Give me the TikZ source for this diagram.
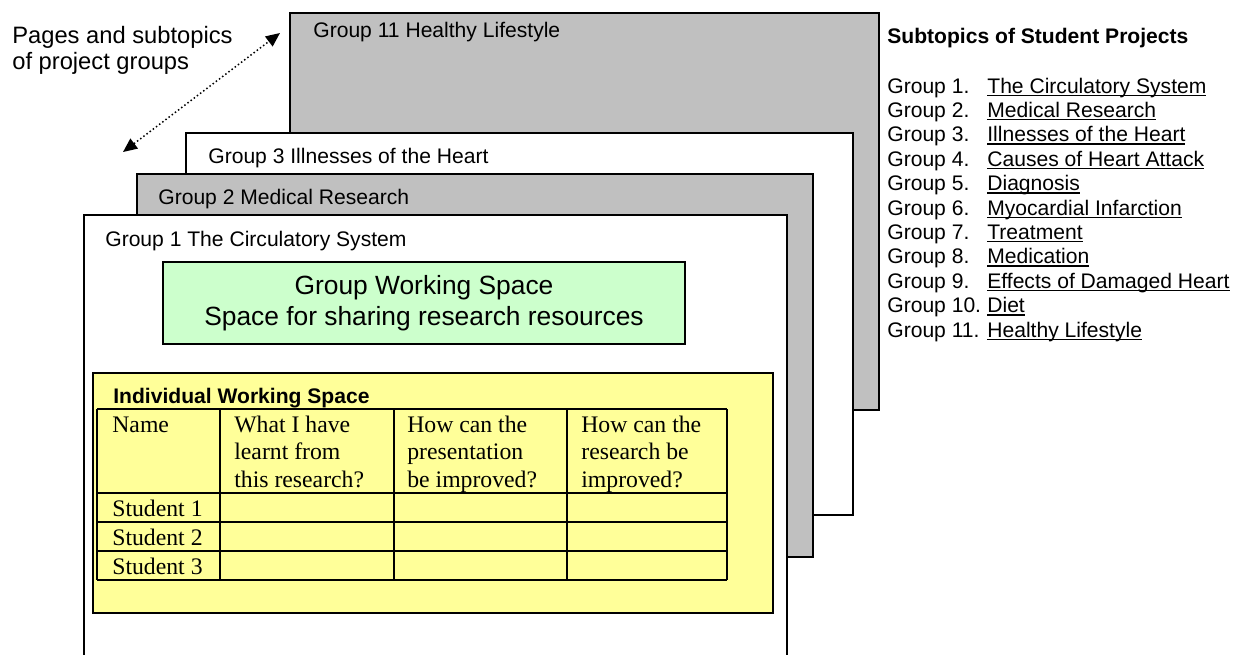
\documentclass[tikz,border=0pt]{standalone}
\usepackage{fontspec}
\setmainfont{Liberation Sans}
\newfontfamily\timesfont{Liberation Serif}
\usepackage{xcolor}
\usepackage{tikz}
\usetikzlibrary{
  arrows.meta
}

\definecolor{pagegray}{HTML}{C0C0C0}
\definecolor{groupgreen}{HTML}{CCFFCC}
\definecolor{indivyellow}{HTML}{FFFF99}

% 下線付きの小題
\newsavebox{\subbox}
\newcommand{\subul}[1]{%
  \sbox{\subbox}{#1}\rlap{\rule[-1.7pt]{\wd\subbox}{0.75pt}}\usebox{\subbox}}

\begin{document}
\begin{tikzpicture}[%スタイル設定
          x=0.02cm,y=-0.02cm,
          page/.style={
              draw=black,
              line width=1.1pt
            },
          title/.style={
              anchor=base west,
              inner sep=0pt,
              font=\fontsize{12}{14}\selectfont
            },
          cell/.style={
              anchor=base west,
              inner sep=0pt,
              align=left,
              font=\timesfont\fontsize{13.5}{15.4}\selectfont
            },
          grid/.style={
              line width=0.9pt
            }
        ]
        \useasboundingbox (0,0) rectangle (1236,654);
        \clip (0,0) rectangle (1236,654);

        % 重なったページ
        \filldraw[page,fill=pagegray] (290,13) rectangle (879,410);
        \filldraw[page,fill=white] (186,133) rectangle (853,515);
        \filldraw[page,fill=pagegray] (137,174) rectangle (813,557);
        \filldraw[page,fill=white] (84,215) rectangle (787,690);

        % ページの題名
        \node[title] (g11) at (313,37) {Group 11 Healthy Lifestyle};
        \node[title] (g3) at (208,163) {Group 3 Illnesses of the Heart};
        \node[title] (g2) at (158,204) {Group 2 Medical Research};
        \node[title] (g1) at (105,246) {Group 1 The Circulatory System};

        % グループ作業スペース
        \node[
          draw,
          line width=1pt,
          fill=groupgreen,
          minimum width=10.44cm,
          minimum height=1.64cm,
          align=center,
          font=\fontsize{15}{17.5}\selectfont
        ] (groupspace) at (424,303) {Group Working Space\\Space for sharing research resources};

        % 個人作業スペース
        \node[
          draw,
          line width=1pt,
          fill=indivyellow,
          minimum width=13.6cm,
          minimum height=4.8cm
        ] (indivspace) at (433,493) {};
        \node[title,font=\bfseries\fontsize{12}{14}\selectfont] (indivtitle) at (113,403) {Individual Working Space};

        % 表の罫線
        \foreach \r in {409,493,522,551,580}
          \draw[grid] (97,\r) -- (727,\r);
        \foreach \c in {97,220,394,567,727}
          \draw[grid] (\c,409) -- (\c,580);

        % 表の中身 (複数行は最終行のベースライン)
        \node[cell] (hname) at (112,432) {Name};
        \node[cell] (hlearnt) at (234,487) {What I have\\learnt from\\this research?};
        \node[cell] (hpresent) at (407,487) {How can the\\presentation\\be improved?};
        \node[cell] (hresearch) at (581,487) {How can the\\research be\\improved?};
        \foreach \i/\y in {1/516,2/545,3/574}
          \node[cell] (stud\i) at (112,\y) {Student \i};

        % 小題の一覧
        \node[title,font=\bfseries\fontsize{12}{14}\selectfont] (listtitle) at (887,43) {Subtopics of Student Projects};
        \foreach \i/\t [evaluate=\i as \yy using 93+24.4*(\i-1)] in {
            1/The Circulatory System,
            2/Medical Research,
            3/Illnesses of the Heart,
            4/Causes of Heart Attack,
            5/Diagnosis,
            6/Myocardial Infarction,
            7/Treatment,
            8/Medication,
            9/Effects of Damaged Heart,
            10/Diet,
            11/Healthy Lifestyle}{
            \node[title] (grp\i) at (887,\yy) {Group \i.};
            \node[title] (sub\i) at (987,\yy) {\subul{\t}};
          }

        % 説明と点線の矢印
        \node[title,align=left,font=\fontsize{13.5}{14.8}\selectfont] (pagelabel) at (12,69) {Pages and subtopics\\of project groups};
        \coordinate (arrtop) at (280,33);
        \coordinate (arrbot) at (123,152);
        \draw[
          line width=0.85pt,
          dash pattern=on 0.85pt off 1.4pt,
          {Triangle[length=8pt,width=7pt]}-{Triangle[length=8pt,width=7pt]}
        ] (arrbot) -- (arrtop);

      \end{tikzpicture}
\end{document}
